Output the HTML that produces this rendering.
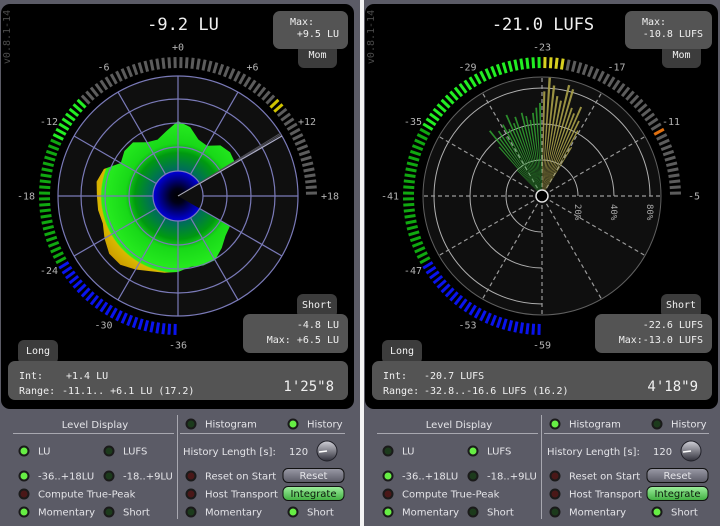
<!DOCTYPE html>
<html><head><meta charset="utf-8"><style>
html,body{margin:0;padding:0;background:#5b5b66;}
svg{display:block;}
text{font-family:"DejaVu Sans Mono","Liberation Mono",monospace;}
.ctl{font-family:"DejaVu Sans","Liberation Sans",sans-serif;font-size:10px;fill:#e4e4e8;}
</style></head><body>
<svg id="root" width="720" height="526" viewBox="0 0 720 526" xmlns="http://www.w3.org/2000/svg">
<defs>
<radialGradient id="blobGrad" gradientUnits="userSpaceOnUse" cx="178" cy="196" r="120">
<stop offset="0" stop-color="#000"/>
<stop offset="0.06" stop-color="#000018"/>
<stop offset="0.205" stop-color="#0000d8"/>
<stop offset="0.215" stop-color="#006a60"/>
<stop offset="0.36" stop-color="#009a10"/>
<stop offset="0.44" stop-color="#18d818"/>
<stop offset="0.635" stop-color="#28ee20"/>
<stop offset="0.645" stop-color="#d8b800"/>
<stop offset="0.8" stop-color="#c89000"/>
<stop offset="1" stop-color="#b07000"/>
</radialGradient>
<linearGradient id="btnGray" x1="0" y1="0" x2="0" y2="1"><stop offset="0" stop-color="#9a9aa6"/><stop offset="1" stop-color="#5a5a66"/></linearGradient>
<linearGradient id="btnGreen" x1="0" y1="0" x2="0" y2="1"><stop offset="0" stop-color="#9ef09e"/><stop offset="1" stop-color="#3fae3f"/></linearGradient>
<linearGradient id="knobGrad" x1="0" y1="0" x2="0" y2="1"><stop offset="0" stop-color="#d0d0d8"/><stop offset="1" stop-color="#30303a"/></linearGradient>
</defs>
</svg>
<script>
// ---- data ----
const leftTicks = [-36,-30,-24,-18,-12,-6,0,6,12,18];
const rightTicks = [-59,-53,-47,-41,-35,-29,-23,-17,-11,-5];
const leftMomentary = -9.2;
const leftMax = 9.5;
const rightMomentary = -21.0;
const rightMax = -10.8;
// momentary history (LU), oldest -> newest, clockwise
const historyLU = [-9,-8.1,-5.4,-2.7,-2.7,-3.6,-1.8,-0.9,0,2.2,4.4,4.4,2.2,0,0.5,0.5,1.2,-0.5,-6.3,-4.5,-4.5,-8.1,-9,-6.3,-2.25,-4.5,-9,-9.9,-6.3,-5.4,-6.3];
// histogram (LUFS bins, percent)
const histBins = [-32,-31.5,-31,-30.5,-30,-29.5,-29,-28.5,-28,-27.5,-27,-26.5,-26,-25.5,-25,-24.5,-24,-23.5,-23,-22.5,-22,-21.5,-21,-20.5,-20,-19.5,-19,-18.5,-18,-17.5,-17];
const histPct = [20,35,50,40,45,38,48,42,55,45,50,40,52,48,44,50,55,60,75,98,85,70,65,90,85,60,55,65,50,42,30];
const histRingPct = [20,40,80];

const NS='http://www.w3.org/2000/svg';
const svg=document.getElementById('root');
function mk(tag,attrs,parent){const e=document.createElementNS(NS,tag);for(const k in attrs)e.setAttribute(k,attrs[k]);(parent||svg).appendChild(e);return e;}
function tx(s,attrs,parent){const e=mk('text',attrs,parent);e.textContent=s;return e;}
function pt(cx,cy,r,deg){const a=deg*Math.PI/180;return [cx+r*Math.sin(a),cy-r*Math.cos(a)];}
function gaugeAngle(v,min){return 180+(v-min)*5;}
function rHist(lu){return (lu+36)/54*120;}
function rPct(p){return Math.max(8,36*Math.log2(p/10));}

function panel(ox, cfg){
  const cx=ox+178+cfg.dx, cy=196;
  const g=mk('g',{});
  
  
  const disp=mk('rect',{x:ox+1+(ox?4:0),y:4,width:353,height:405,rx:9,fill:'#000'},g);
  
  
  const ver=tx('v0.8.1-14',{x:0,y:0,transform:`translate(${ox+10+(ox?4:0)},37) rotate(-90)`,'text-anchor':'middle','font-size':'10',fill:'#4a4a4a','font-family':'DejaVu Sans'},g);
  
  
  const title=tx(cfg.title,{x:ox+183,y:30,'text-anchor':'middle','font-size':'17',fill:'#f0f0f0'},g);
  
  

  const gg=mk('g',{},g);
  
  
  const min=cfg.ticks[0];
  for(let i=0;i<108;i++){
    const v=min+(i+0.5)*0.5;
    const a=gaugeAngle(v,min);
    const p1=pt(cx,cy,128,a),p2=pt(cx,cy,139,a);
    const seg=mk('line',{x1:p1[0],y1:p1[1],x2:p2[0],y2:p2[1],stroke:cfg.segColor(v),'stroke-width':3},gg);
    
    
  }
  cfg.ticks.forEach(t=>{
    const a=gaugeAngle(t,min);
    const r=(Math.abs((a%360)-90)<5||Math.abs((a%360)-270)<5)?152:149;
    const p=pt(cx,cy,r,a);
    const lab=tx(cfg.fmt(t),{x:p[0],y:p[1]+3.5,'text-anchor':'middle','font-size':'10',fill:'#b4b4b4'},gg);
    
    
  });

  cfg.plot(cx,cy,g);

  function box(x,y,w,h,name){const r=mk('rect',{x:x,y:y,width:w,height:h,rx:7,fill:'#545454'},g);return r;}
  function tab(x,y,w,label,name){const r=mk('rect',{x:x,y:y,width:w,height:24,rx:6,fill:'#3c3c3c'},g);const t=tx(label,{x:x+w/2,y:y+14,'text-anchor':'middle','font-size':'10',fill:'#f0f0f0','font-family':'DejaVu Sans'},g);}
  tab(cfg.momTab,44,39,'Mom','momentary-tab');
  box(cfg.maxBox,11,348+ox-cfg.maxBox+ (ox?4:0),38,'max-box');
  let t=tx('Max:',{x:cfg.maxBox+17,y:25,'font-size':'10',fill:'#f0f0f0'},g);
  t=tx(cfg.maxText,{x:ox+339+(ox?4:0),y:37,'text-anchor':'end','font-size':'10',fill:'#f0f0f0'},g);

  tab(cfg.shortTab,294,40,'Short','short-tab');
  box(cfg.shortBox,314,348+ox-cfg.shortBox+(ox?4:0),39,'short-box');
  t=tx(cfg.shortVal,{x:ox+339+(ox?4:0),y:328,'text-anchor':'end','font-size':'10',fill:'#f0f0f0'},g);
  t=tx(cfg.shortMax,{x:ox+339+(ox?4:0),y:343,'text-anchor':'end','font-size':'10',fill:'#f0f0f0','xml:space':'preserve'},g);

  tab(ox+18+(ox?4:0),340,40,'Long','long-tab');
  box(ox+8+(ox?4:0),361,340,39,'long-box');
  t=tx('Int:',{x:ox+19+(ox?4:0),y:379,'font-size':'10',fill:'#f0f0f0'},g);
  t=tx(cfg.intVal,{x:ox+66+(ox?-2:0),y:379,'font-size':'10',fill:'#f0f0f0'},g);
  t=tx('Range:',{x:ox+19+(ox?4:0),y:394,'font-size':'10',fill:'#f0f0f0'},g);
  t=tx(cfg.rangeVal,{x:ox+62+(ox?2:0),y:394,'font-size':'10',fill:'#f0f0f0','xml:space':'preserve'},g);
  t=tx(cfg.time,{x:ox+334+(ox?4:0),y:391,'text-anchor':'end','font-size':'14',fill:'#f0f0f0'},g);

  const c=mk('g',{},g);
  
  
  const X=ox+(ox?4:0);
  t=tx('Level Display',{x:X+95,y:428,'text-anchor':'middle',class:'ctl'},c);
  let l=mk('line',{x1:X+13,y1:433.5,x2:X+174,y2:433.5,stroke:'#a8a8b0'},c);
  l=mk('line',{x1:X+180,y1:433.5,x2:X+345,y2:433.5,stroke:'#a8a8b0'},c);
  l=mk('line',{x1:X+177.5,y1:415,x2:X+177.5,y2:519,stroke:'#a8a8b0'},c);
  function led(x,y,state,label,name){
    const col={on:'#66ee44',off:'#1c3a1c',red:'#4a1818'}[state];
    const r=mk('circle',{cx:x,cy:y,r:4.5,fill:col,stroke:'#1a1a1a','stroke-width':2},c);
    
    
    const tt=tx(label,{x:x+14,y:y+3.5,class:'ctl'},c);
    
    
  }
  const s=cfg.leds;
  led(X+191,424,s.histogram,'Histogram','histogram');
  led(X+293,424,s.history,'History','history');
  led(X+24,451,s.lu,'LU','lu-mode');
  led(X+109,451,s.lufs,'LUFS','lufs-mode');
  led(X+24,476,'on','-36..+18LU','wide-range');
  led(X+109,476,'off','-18..+9LU','narrow-range');
  led(X+24,494,'red','Compute True-Peak','true-peak');
  led(X+24,512,'on','Momentary','level-momentary');
  led(X+109,512,'off','Short','level-short');
  led(X+191,476,'red','Reset on Start','reset-on-start');
  led(X+191,494,'red','Host Transport','host-transport');
  led(X+191,512,'off','Momentary','plot-momentary');
  led(X+293,512,'on','Short','plot-short');
  t=tx('History Length [s]:',{x:X+183,y:455,class:'ctl'},c);
  t=tx('120',{x:X+289,y:455,class:'ctl'},c);
  const k=mk('circle',{cx:X+327,cy:451,r:10,fill:'url(#knobGrad)',stroke:'#202028'},c);
  l=mk('line',{x1:X+319,y1:452,x2:X+327,y2:451,stroke:'#fff','stroke-width':1.5},c);
  let b=mk('rect',{x:X+283,y:468.5,width:61,height:14,rx:5,fill:'url(#btnGray)',stroke:'#111'},c);
  t=tx('Reset',{x:X+313.5,y:479,'text-anchor':'middle',class:'ctl'},c);
  b=mk('rect',{x:X+283,y:486.5,width:61,height:14,rx:5,fill:'url(#btnGreen)',stroke:'#111'},c);
  t=tx('Integrate',{x:X+313.5,y:497,'text-anchor':'middle',class:'ctl',style:'fill:#0c1a0c'},c);
}

const sep=mk('rect',{x:360,y:0,width:4,height:526,fill:'#f4f4f4'});



panel(0,{
  name:'lu-history-panel',title:'-9.2 LU',ticks:leftTicks,dx:0,
  fmt:t=>t>=0?'+'+t:String(t),
  segColor:v=>{ if(v<-24)return '#0a14ee'; if(v<=leftMomentary) return v<-13?'#10a810':'#22ee22'; if(Math.abs(v-leftMax)<0.3)return '#d0c400'; return '#5c5c5c';},
  momTab:298,maxBox:273,maxText:'+9.5 LU',shortTab:297,shortBox:243,shortVal:'-4.8 LU',shortMax:'Max: +6.5 LU',
  intVal:'+1.4 LU',rangeVal:'-11.1..  +6.1 LU (17.2)',time:'1\'25"8',
  leds:{histogram:'off',history:'on',lu:'on',lufs:'off'},
  plot:(cx,cy,g)=>{
    const p=mk('g',{},g);
    
    
    const bg=mk('circle',{cx:cx,cy:cy,r:120,fill:'#0f0f0f'},p);
    
    
    const start=120, step=10;
    let d=`M${cx},${cy}`;
    historyLU.forEach((v,i)=>{const q=pt(cx,cy,rHist(v),start+i*step);d+=` L${q[0].toFixed(1)},${q[1].toFixed(1)}`;});
    d+=' Z';
    const blob=mk('path',{d:d,fill:'url(#blobGrad)'},p);
    
    
    [25,49,73,97,120].forEach(r=>{const ring=mk('circle',{cx:cx,cy:cy,r:r,fill:'none',stroke:'#7a7ab8','stroke-width':1.2},p);});
    for(let a=0;a<360;a+=30){const a1=pt(cx,cy,25,a),a2=pt(cx,cy,120,a);const sp=mk('line',{x1:a1[0],y1:a1[1],x2:a2[0],y2:a2[1],stroke:'#7a7ab8','stroke-width':1.2},p);}
    const na=start+historyLU.length*step-step;
    [na-1.5,na-0.8,na].forEach((a,i)=>{const e=pt(cx,cy,120,a);const ln=mk('line',{x1:cx,y1:cy,x2:e[0],y2:e[1],stroke:i==2?'#b0b0c0':'#505058','stroke-width':1},p);});
  }
});

panel(360,{
  name:'lufs-histogram-panel',title:'-21.0 LUFS',ticks:rightTicks,dx:4,
  fmt:t=>String(t),
  segColor:v=>{ if(v<-47)return '#0a14ee'; if(v<-35)return '#10a810'; if(v<-23)return '#22ee22'; if(v<=rightMomentary)return '#d8d020'; if(Math.abs(v-rightMax)<0.3)return '#e07010'; return '#5c5c5c';},
  momTab:662,maxBox:625,maxText:'-10.8 LUFS',shortTab:661,shortBox:595,shortVal:'-22.6 LUFS',shortMax:'Max:-13.0 LUFS',
  intVal:'-20.7 LUFS',rangeVal:'-32.8..-16.6 LUFS (16.2)',time:'4\'18"9',
  leds:{histogram:'on',history:'off',lu:'off',lufs:'on'},
  plot:(cx,cy,g)=>{
    const p=mk('g',{},g);
    
    
    const bg=mk('circle',{cx:cx,cy:cy,r:119,fill:'#0f0f0f',stroke:'#606060'},p);
    
    
    histRingPct.forEach(pc=>{const r=rPct(pc);const a=pt(cx,cy,r,180),b=pt(cx,cy,r,90);
      const arc=mk('path',{d:`M${a[0]},${a[1]} A${r},${r} 0 1 1 ${b[0]},${b[1]}`,fill:'none',stroke:'#b0b0b0'},p);
      
      const lb=tx(pc+'%',{x:0,y:0,transform:`translate(${cx+r-3},${cy+8}) rotate(90)`,'font-size':'9',fill:'#a8a8a8'},p);
      
    });
    for(let a=0;a<360;a+=30){const a1=pt(cx,cy,9,a),a2=pt(cx,cy,119,a);const sp=mk('line',{x1:a1[0],y1:a1[1],x2:a2[0],y2:a2[1],stroke:'#9a9a9a','stroke-width':1.2,'stroke-dasharray':'4,3'},p);}
    histBins.forEach((v,i)=>{
      const a=gaugeAngle(v+0.25,rightTicks[0]);
      const r=rPct(histPct[i]);
      const q1=pt(cx,cy,r,a-0.6),q2=pt(cx,cy,r,a+0.6);
      const bar=mk('polygon',{points:`${cx},${cy} ${q1[0].toFixed(1)},${q1[1].toFixed(1)} ${q2[0].toFixed(1)},${q2[1].toFixed(1)}`,fill:v<-23?'#2f9a2f':'#a8a048',opacity:0.9},p);
      
      
    });
    const hub=mk('circle',{cx:cx,cy:cy,r:6,fill:'#000',stroke:'#e0e0e0','stroke-width':1.5},p);
    
    
  }
});
</script>
</body></html>
